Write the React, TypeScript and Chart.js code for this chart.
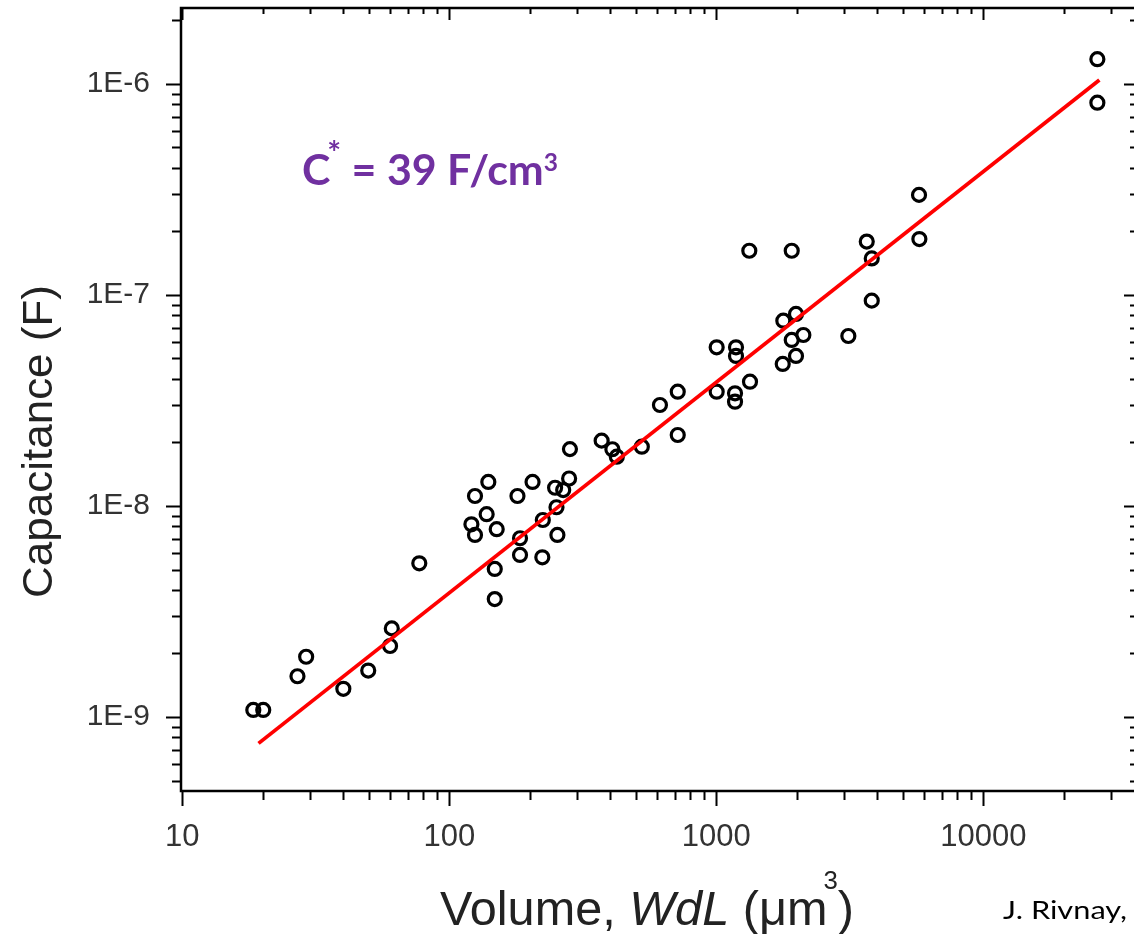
import React, { useEffect, useRef } from 'react';
import { Chart, registerables } from 'chart.js';

Chart.register(...registerables);

// ---- data ----
const volume = [
  18.45, 20.1, 27.0, 29.1, 40.1, 49.7, 60.0, 60.9, 77.2,
  283, 140, 124.8, 205, 180, 281, 249, 252, 138, 121, 124.8, 150.5, 224, 184, 254, 184, 223, 148, 148, 267,
  717, 615, 372, 408, 424, 526, 717,
  1329, 1916, 3659, 3820, 3820, 3122, 1782, 1988, 2118, 1916, 1988, 1773,
  1003, 1185, 1185, 1337, 1003, 1175, 1175,
  5743, 5760, 26730, 26730,
];
const capacitance = [
  1.08e-9, 1.08e-9, 1.56e-9, 1.93e-9, 1.36e-9, 1.66e-9, 2.17e-9, 2.63e-9, 5.35e-9,
  1.86e-8, 1.30e-8, 1.115e-8, 1.30e-8, 1.115e-8, 1.35e-8, 1.22e-8, 9.86e-9, 9.14e-9, 8.19e-9, 7.29e-9, 7.76e-9, 8.58e-9, 7.03e-9, 7.29e-9, 5.86e-9, 5.71e-9, 5.03e-9, 3.62e-9, 1.19e-8,
  3.48e-8, 3.01e-8, 2.04e-8, 1.857e-8, 1.713e-8, 1.91e-8, 2.17e-8,
  1.62e-7, 1.62e-7, 1.79e-7, 1.49e-7, 9.4e-8, 6.39e-8, 7.55e-8, 8.13e-8, 6.46e-8, 6.12e-8, 5.14e-8, 4.71e-8,
  5.65e-8, 5.65e-8, 5.14e-8, 3.88e-8, 3.48e-8, 3.42e-8, 3.12e-8,
  2.98e-7, 1.84e-7, 1.31e-6, 8.15e-7,
];
const fitVolume = [19.3, 27200];
const fitCapacitance = [7.5e-10, 1.045e-6];

const xAxisRange = [9.89, 37300];
const yAxisRange = [4.46e-10, 2.29e-6];
const xMajorTicks = [10, 100, 1000, 10000];
const yMajorTicks = [1e-9, 1e-8, 1e-7, 1e-6];
const xDecades = [0, 1, 2, 3, 4];
const yDecades = [-10, -9, -8, -7, -6];

const xTitleParts = ['Volume, ', 'WdL', ' (\u03BCm', '3', ')'];
const yTitle = 'Capacitance (F)';
const noteParts = ['C', '*', ' = 39 F/cm', '3'];
const credit = 'J. Rivnay,';

const SANS = '"Liberation Sans", Arial, sans-serif';
const NOTE_FONT = 'Lato, "Open Sans", sans-serif';

type Part = { text: string; font: string; dy: number; dx?: number };

function drawFitted(ctx: CanvasRenderingContext2D, parts: Part[], x: number, y: number, width: number, color: string) {
  let total = 0;
  const widths = parts.map((p) => {
    ctx.font = p.font;
    const w = ctx.measureText(p.text).width + (p.dx || 0);
    total += w;
    return w;
  });
  const s = width / total;
  ctx.save();
  ctx.translate(x, y);
  ctx.scale(s, 1);
  ctx.fillStyle = color;
  ctx.textAlign = 'left';
  ctx.textBaseline = 'alphabetic';
  let cx = 0;
  parts.forEach((p, i) => {
    ctx.font = p.font;
    cx += p.dx || 0;
    ctx.fillText(p.text, cx, p.dy);
    cx += widths[i] - (p.dx || 0);
  });
  ctx.restore();
}

const framePlugin = {
  id: 'framePlugin',
  afterDraw(chart: any) {
    const { ctx, chartArea: a } = chart;
    const xs = chart.scales.x;
    const ys = chart.scales.y;
    ctx.save();
    ctx.strokeStyle = '#000';
    ctx.lineWidth = 2.5;
    ctx.strokeRect(a.left, a.top, a.right - a.left, a.bottom - a.top);
    ctx.lineWidth = 2;
    ctx.beginPath();
    xDecades.forEach((e) => {
      for (let m = 1; m <= 9; m++) {
        const v = m * Math.pow(10, e);
        if (v < xs.min || v > xs.max) continue;
        const px = Math.round(xs.getPixelForValue(v)) + 0.5;
        const major = m === 1;
        ctx.moveTo(px, a.bottom);
        ctx.lineTo(px, a.bottom + (major ? 15 : 9));
        ctx.moveTo(px, a.top);
        ctx.lineTo(px, a.top + (major ? 12 : 6));
      }
    });
    yDecades.forEach((e) => {
      for (let m = 1; m <= 9; m++) {
        const v = m * Math.pow(10, e);
        if (v < ys.min || v > ys.max) continue;
        const py = Math.round(ys.getPixelForValue(v)) + 0.5;
        const major = m === 1;
        ctx.moveTo(a.left - (major ? 15 : 9), py);
        ctx.lineTo(a.left, py);
        ctx.moveTo(a.right - (major ? 12 : 6), py);
        ctx.lineTo(a.right, py);
      }
    });
    ctx.stroke();
    ctx.restore();

    // x title
    drawFitted(ctx, [
      { text: xTitleParts[0], font: `49px ${SANS}`, dy: 0 },
      { text: xTitleParts[1], font: `italic 49px ${SANS}`, dy: 0 },
      { text: xTitleParts[2], font: `49px ${SANS}`, dy: 0 },
      { text: xTitleParts[3], font: `26px ${SANS}`, dy: -36, dx: -4 },
      { text: xTitleParts[4], font: `49px ${SANS}`, dy: 0 },
    ], 440, 925, 414, '#222');

    // y title
    ctx.save();
    ctx.translate(52, 598);
    ctx.rotate(-Math.PI / 2);
    drawFitted(ctx, [{ text: yTitle, font: `42px ${SANS}`, dy: 0 }], 0, 0, 313, '#222');
    ctx.restore();

    // annotation
    drawFitted(ctx, [
      { text: noteParts[0], font: `bold 42px ${NOTE_FONT}`, dy: 0 },
      { text: noteParts[1], font: `bold 32px ${NOTE_FONT}`, dy: -20, dx: -3 },
      { text: noteParts[2], font: `bold 42px ${NOTE_FONT}`, dy: 0 },
      { text: noteParts[3], font: `bold 24px ${NOTE_FONT}`, dy: -14 },
    ], 302, 185, 256, '#7030A0');

    // credit
    drawFitted(ctx, [{ text: credit, font: `25px ${NOTE_FONT}`, dy: 0 }], 1003, 919, 124, '#000');
  },
};

export default function App() {
  const ref = useRef<HTMLCanvasElement | null>(null);
  useEffect(() => {
    if (!ref.current) return;
    const chart = new Chart(ref.current, {
      type: 'scatter',
      data: {
        datasets: [
          {
            type: 'line',
            data: fitVolume.map((x, i) => ({ x, y: fitCapacitance[i] })),
            borderColor: '#ff0000',
            borderWidth: 3.8,
            pointRadius: 0,
            fill: false,
            tension: 0,
          } as any,
          {
            type: 'scatter',
            data: volume.map((x, i) => ({ x, y: capacitance[i] })),
            pointStyle: 'circle',
            pointRadius: 6.5,
            borderColor: '#000',
            backgroundColor: 'rgba(0,0,0,0)',
            borderWidth: 3.2,
          } as any,
        ],
      },
      options: {
        responsive: false,
        animation: false,
        layout: { autoPadding: false, padding: { left: 0, right: 4, top: 8, bottom: 0 } },
        plugins: { legend: { display: false }, tooltip: { enabled: false } },
        scales: {
          x: {
            type: 'logarithmic',
            position: 'bottom',
            min: xAxisRange[0],
            max: xAxisRange[1],
            grid: { display: false, drawTicks: false },
            border: { display: false },
            ticks: {
              autoSkip: false,
              maxRotation: 0,
              minRotation: 0,
              padding: 28,
              color: '#333',
              font: { family: SANS, size: 31 },
              callback: (v: any) => String(Math.round(Number(v))),
            },
            afterBuildTicks: (s: any) => { s.ticks = xMajorTicks.map((v) => ({ value: v, major: true })); },
            afterFit: (s: any) => { s.height = 143; s.paddingLeft = 0; s.paddingRight = 0; },
          },
          y: {
            type: 'logarithmic',
            position: 'left',
            min: yAxisRange[0],
            max: yAxisRange[1],
            grid: { display: false, drawTicks: false },
            border: { display: false },
            ticks: {
              autoSkip: false,
              padding: 31,
              color: '#333',
              font: { family: SANS, size: 30 },
              callback: (v: any) => `1E${Math.round(Math.log10(Number(v)))}`,
            },
            afterBuildTicks: (s: any) => { s.ticks = yMajorTicks.map((v) => ({ value: v, major: true })); },
            afterFit: (s: any) => { s.width = 181; s.paddingTop = 0; s.paddingBottom = 0; },
          },
        },
      } as any,
      plugins: [framePlugin],
    });
    return () => chart.destroy();
  }, []);
  return (
    <div style={{ position: 'fixed', left: 0, top: 0, width: 1134, height: 934, overflow: 'hidden', background: '#fff' }}>
      <canvas ref={ref} width={1140} height={934} style={{ display: 'block' }} />
    </div>
  );
}
